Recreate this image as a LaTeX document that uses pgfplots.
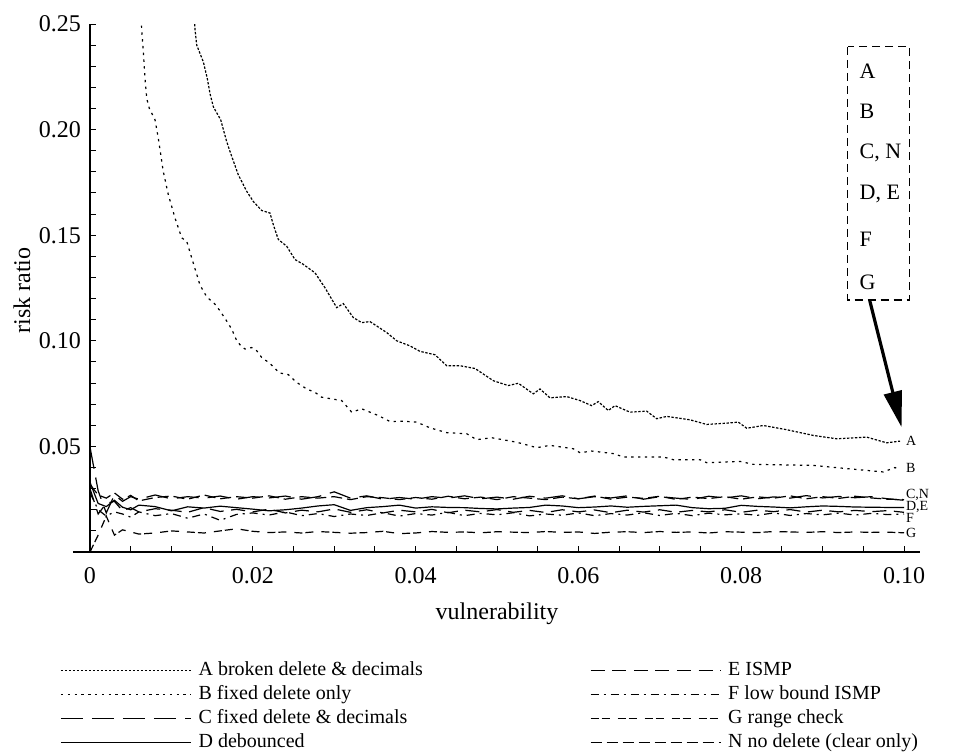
\documentclass[border=0pt]{standalone}
\usepackage{fontspec}
\setmainfont{Liberation Serif}
\usepackage{pgfplots}
\usepackage{pgfplotstable}
\pgfplotsset{compat=1.18}
\usetikzlibrary{arrows.meta}

\pgfplotstableread{
x y
0.01278 0.2557
0.01290 0.2475
0.01311 0.2400
0.01392 0.2321
0.01441 0.2242
0.01474 0.2171
0.01515 0.2108
0.01606 0.2046
0.01679 0.1943
0.01741 0.1873
0.01822 0.1786
0.01925 0.1708
0.02006 0.1660
0.02109 0.1617
0.02211 0.1605
0.02252 0.1550
0.02313 0.1480
0.02416 0.1448
0.02518 0.1385
0.02620 0.1362
0.02764 0.1322
0.02887 0.1251
0.03031 0.1157
0.03112 0.1176
0.03235 0.1110
0.03338 0.1086
0.03440 0.1091
0.03645 0.1039
0.03768 0.1000
0.03931 0.0976
0.04054 0.0950
0.04238 0.0934
0.04382 0.0882
0.04545 0.0882
0.04730 0.0869
0.04955 0.0811
0.05139 0.0788
0.05262 0.0799
0.05446 0.0749
0.05528 0.0772
0.05651 0.0730
0.05856 0.0736
0.06020 0.0717
0.06163 0.0693
0.06244 0.0712
0.06367 0.0670
0.06450 0.0693
0.06634 0.0662
0.06839 0.0667
0.06962 0.0631
0.07085 0.0642
0.07371 0.0626
0.07576 0.0604
0.07822 0.0610
0.07964 0.0615
0.08068 0.0586
0.08272 0.0599
0.08559 0.0579
0.08886 0.0552
0.09173 0.0536
0.09541 0.0544
0.09787 0.0517
0.09951 0.0525
}\tabA

\pgfplotstableread{
x y
0.00627 0.2557
0.00635 0.2475
0.00655 0.2368
0.00676 0.2242
0.00697 0.2148
0.00729 0.2100
0.00799 0.2046
0.00839 0.1959
0.00900 0.1802
0.00962 0.1692
0.01044 0.1582
0.01127 0.1487
0.01188 0.1472
0.01249 0.1393
0.01311 0.1315
0.01351 0.1264
0.01434 0.1208
0.01536 0.1173
0.01597 0.1142
0.01679 0.1094
0.01741 0.1055
0.01794 0.1008
0.01843 0.0981
0.01904 0.0961
0.01986 0.0968
0.02048 0.0953
0.02109 0.0921
0.02211 0.0893
0.02326 0.0848
0.02436 0.0840
0.02539 0.0803
0.02662 0.0772
0.02764 0.0756
0.02846 0.0733
0.03092 0.0717
0.03215 0.0662
0.03338 0.0678
0.03542 0.0646
0.03686 0.0618
0.03849 0.0619
0.04014 0.0615
0.04177 0.0588
0.04382 0.0565
0.04628 0.0560
0.04750 0.0532
0.04935 0.0541
0.05242 0.0520
0.05488 0.0494
0.05651 0.0505
0.05937 0.0489
0.06020 0.0470
0.06163 0.0478
0.06429 0.0466
0.06552 0.0450
0.07043 0.0450
0.07166 0.0437
0.07494 0.0437
0.07576 0.0423
0.07985 0.0429
0.08149 0.0415
0.08886 0.0410
0.09296 0.0395
0.09746 0.0379
0.09889 0.0400
0.09951 0.0390
}\tabB

\pgfplotstableread{
x C N D E F G
0     0.0497 0.0320 0.0330 0.0300 0.0280 0.0000
0.001 0.0290 0.0270 0.0230 0.0180 0.0200 0.0080
0.002 0.0185 0.0255 0.0215 0.0230 0.0170 0.0170
0.003 0.0270 0.0280 0.0245 0.0240 0.0190 0.0080
0.004 0.0240 0.0250 0.0212 0.0195 0.0180 0.0105
0.005 0.0262 0.0268 0.0200 0.0210 0.0165 0.0095
0.006 0.0250 0.0242 0.0222 0.0190 0.0190 0.0085
0.008 0.0270 0.0258 0.0215 0.0205 0.0172 0.0090
0.010 0.0252 0.0265 0.0195 0.0198 0.0182 0.0100
0.012 0.0262 0.0250 0.0214 0.0188 0.0160 0.0095
0.014 0.0255 0.0270 0.0208 0.0210 0.0180 0.0090
0.016 0.0265 0.0252 0.0217 0.0192 0.0150 0.0100
0.018 0.0250 0.0262 0.0210 0.0202 0.0178 0.0110
0.020 0.0262 0.0255 0.0203 0.0190 0.0185 0.0098
0.022 0.0256 0.0266 0.0195 0.0203 0.0175 0.0092
0.024 0.0265 0.0250 0.0200 0.0185 0.0190 0.0095
0.026 0.0250 0.0262 0.0208 0.0198 0.0172 0.0090
0.028 0.0262 0.0255 0.0218 0.0190 0.0182 0.0097
0.030 0.0285 0.0262 0.0224 0.0204 0.0168 0.0093
0.032 0.0255 0.0248 0.0197 0.0188 0.0180 0.0089
0.034 0.0266 0.0262 0.0210 0.0200 0.0173 0.0092
0.036 0.0250 0.0257 0.0215 0.0185 0.0186 0.0098
0.038 0.0258 0.0248 0.0222 0.0198 0.0170 0.0087
0.040 0.0250 0.0258 0.0208 0.0190 0.0182 0.0090
0.042 0.0262 0.0250 0.0214 0.0202 0.0175 0.0097
0.044 0.0255 0.0264 0.0211 0.0186 0.0188 0.0093
0.046 0.0266 0.0252 0.0210 0.0198 0.0172 0.0095
0.048 0.0252 0.0260 0.0206 0.0190 0.0183 0.0091
0.050 0.0260 0.0248 0.0204 0.0201 0.0176 0.0096
0.052 0.0250 0.0262 0.0208 0.0188 0.0186 0.0094
0.054 0.0264 0.0255 0.0211 0.0197 0.0171 0.0092
0.056 0.0255 0.0248 0.0222 0.0187 0.0180 0.0097
0.058 0.0266 0.0260 0.0218 0.0200 0.0174 0.0093
0.060 0.0252 0.0252 0.0210 0.0190 0.0185 0.0095
0.062 0.0262 0.0265 0.0213 0.0199 0.0172 0.0088
0.064 0.0256 0.0250 0.0218 0.0186 0.0182 0.0094
0.066 0.0266 0.0260 0.0212 0.0198 0.0175 0.0096
0.068 0.0250 0.0254 0.0216 0.0189 0.0186 0.0092
0.070 0.0262 0.0264 0.0219 0.0200 0.0173 0.0097
0.072 0.0255 0.0249 0.0222 0.0188 0.0183 0.0093
0.074 0.0249 0.0260 0.0210 0.0197 0.0172 0.0095
0.076 0.0264 0.0253 0.0205 0.0190 0.0184 0.0090
0.078 0.0256 0.0262 0.0207 0.0200 0.0176 0.0096
0.080 0.0266 0.0250 0.0221 0.0188 0.0181 0.0094
0.082 0.0252 0.0261 0.0216 0.0198 0.0174 0.0092
0.084 0.0261 0.0255 0.0213 0.0191 0.0185 0.0097
0.086 0.0255 0.0266 0.0209 0.0201 0.0173 0.0095
0.088 0.0267 0.0252 0.0214 0.0189 0.0182 0.0093
0.090 0.0256 0.0262 0.0218 0.0198 0.0176 0.0096
0.092 0.0263 0.0254 0.0216 0.0190 0.0184 0.0092
0.094 0.0257 0.0264 0.0213 0.0197 0.0175 0.0095
0.096 0.0262 0.0256 0.0212 0.0191 0.0183 0.0093
0.098 0.0252 0.0250 0.0211 0.0196 0.0177 0.0094
0.100 0.0245 0.0248 0.0211 0.0188 0.0180 0.0091
}\tabLow

\begin{document}
\begin{tikzpicture}
\begin{axis}[
  name=ax,
  scale only axis, width=407pt, height=264pt,
  xmin=0, xmax=0.1, ymin=0, ymax=0.25,
  axis lines=left, axis line style={-, line width=0.6pt},
  tick align=inside,
  xtick={0,0.02,0.04,0.06,0.08,0.1},
  xticklabels={0,0.02,0.04,0.06,0.08,0.10},
  minor xtick={0.005,0.01,0.015,0.025,0.03,0.035,0.045,0.05,0.055,0.065,0.07,0.075,0.085,0.09,0.095},
  ytick={0.05,0.1,0.15,0.2,0.25},
  yticklabels={0.05,0.10,0.15,0.20,0.25},
  minor ytick={0.01,0.02,0.03,0.04,0.06,0.07,0.08,0.09,0.11,0.12,0.13,0.14,0.16,0.17,0.18,0.19,0.21,0.22,0.23,0.24},
  major tick length=3pt, minor tick length=3pt,
  tick style={black, line width=0.5pt},
  ticklabel style={font=\fontsize{12}{14}\selectfont},
  yticklabel style={xshift=-1pt},
  xticklabel style={yshift=-4pt},
  xlabel={vulnerability}, ylabel={risk ratio},
  label style={font=\fontsize{12}{14}\selectfont},
  xlabel style={at={(axis description cs:0.5,-0.117)}, anchor=center},
  ylabel style={at={(axis description cs:-0.0835,0.495)}, anchor=center},
  clip mode=individual,
  legend columns=2,
  legend cell align=left,
  legend image code/.code={\draw[#1] (0pt,0pt) -- (65pt,0pt);},
  legend style={at={(axis description cs:0,0)}, anchor=north west,
    xshift=-15pt, yshift=-53.5pt, draw=none, fill=none, inner sep=0pt,
    font=\fontsize{10}{12}\selectfont,
    nodes={inner ysep=1pt, inner xsep=3.5pt, text height=7pt, text depth=2pt},
    row sep=1pt,
    /tikz/every even column/.append style={column sep=80pt}},
]
\addplot[black, line width=0.6pt, dash pattern=on 1.2pt off 0.8pt] table[x=x,y=y] {\tabA};
\addlegendentry{A broken delete \& decimals}
\addplot[black, line width=0.6pt, dash pattern=on 7pt off 3.8pt] table[x=x,y=E] {\tabLow};
\addlegendentry{E ISMP}
\addplot[black, line width=0.6pt, dash pattern=on 1.2pt off 2.2pt] table[x=x,y=y] {\tabB};
\addlegendentry{B fixed delete only}
\addplot[black, line width=0.6pt, dash pattern=on 4pt off 2.5pt on 1pt off 2.5pt] table[x=x,y=F] {\tabLow};
\addlegendentry{F low bound ISMP}
\addplot[black, line width=0.6pt, dash pattern=on 11pt off 4.5pt] table[x=x,y=C] {\tabLow};
\addlegendentry{C fixed delete \& decimals}
\addplot[black, line width=0.6pt, dash pattern=on 4pt off 1.5pt on 4pt off 4pt] table[x=x,y=G] {\tabLow};
\addlegendentry{G range check}
\addplot[black, line width=0.6pt] table[x=x,y=D] {\tabLow};
\addlegendentry{D debounced}
\addplot[black, line width=0.6pt, dash pattern=on 5.5pt off 2.5pt] table[x=x,y=N] {\tabLow};
\addlegendentry{N no delete (clear only)}

\draw[line width=0.6pt] (axis cs:-0.00209,0) -- (axis cs:0.10197,0);
\draw[line width=0.6pt, dash pattern=on 4pt off 2.5pt] (axis cs:0.0931,0.2392) rectangle (axis cs:0.1007,0.1193);
\node[anchor=west, inner sep=0pt, font=\fontsize{11}{13}\selectfont] at (axis cs:0.0945,0.2274) {A};
\node[anchor=west, inner sep=0pt, font=\fontsize{11}{13}\selectfont] at (axis cs:0.0945,0.2085) {B};
\node[anchor=west, inner sep=0pt, font=\fontsize{11}{13}\selectfont] at (axis cs:0.0945,0.1892) {C, N};
\node[anchor=west, inner sep=0pt, font=\fontsize{11}{13}\selectfont] at (axis cs:0.0945,0.1693) {D, E};
\node[anchor=west, inner sep=0pt, font=\fontsize{11}{13}\selectfont] at (axis cs:0.0945,0.1481) {F};
\node[anchor=west, inner sep=0pt, font=\fontsize{11}{13}\selectfont] at (axis cs:0.0945,0.1278) {G};
\draw[line width=1.6pt, -{Triangle[length=18pt,width=9pt]}] (axis cs:0.0958,0.1189) -- (axis cs:0.0997,0.0591);
\node[anchor=west, inner sep=0pt, font=\fontsize{7}{8}\selectfont] at (axis cs:0.1002,0.0528) {A};
\node[anchor=west, inner sep=0pt, font=\fontsize{7}{8}\selectfont] at (axis cs:0.1002,0.0396) {B};
\node[anchor=west, inner sep=0pt, font=\fontsize{7}{8}\selectfont] at (axis cs:0.1002,0.0269) {C,N};
\node[anchor=west, inner sep=0pt, font=\fontsize{7}{8}\selectfont] at (axis cs:0.1002,0.0212) {D,E};
\node[anchor=west, inner sep=0pt, font=\fontsize{7}{8}\selectfont] at (axis cs:0.1002,0.0160) {F};
\node[anchor=west, inner sep=0pt, font=\fontsize{7}{8}\selectfont] at (axis cs:0.1002,0.0091) {G};
\end{axis}
\pgfresetboundingbox
\path[use as bounding box] ([xshift=-45pt,yshift=-99.5pt]ax.south west) rectangle ([xshift=37.5pt,yshift=12pt]ax.north east);
\end{tikzpicture}
\end{document}
